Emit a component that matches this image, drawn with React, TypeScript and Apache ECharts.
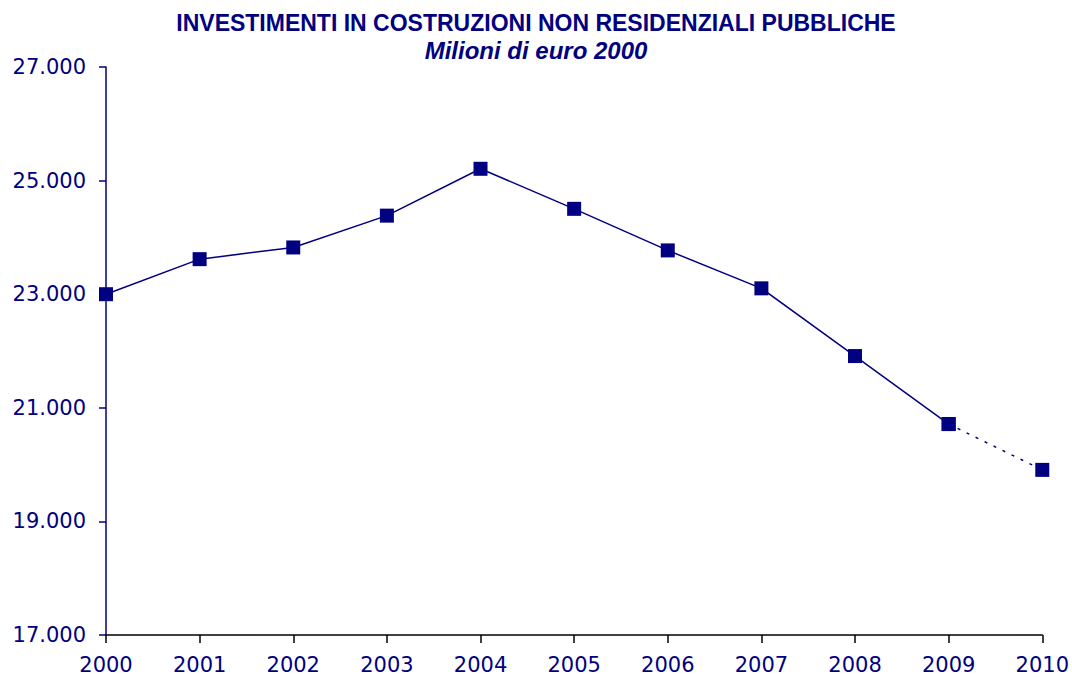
import React, { useEffect, useRef } from "react";
import * as echarts from "echarts";

const years = ["2000", "2001", "2002", "2003", "2004", "2005", "2006", "2007", "2008", "2009", "2010"];
const investments = [23000, 23617, 23823, 24383, 25208, 24503, 23771, 23103, 21911, 20714, 19907];
const yTicks = [17000, 19000, 21000, 23000, 25000, 27000];
const titleText = "INVESTIMENTI IN COSTRUZIONI NON RESIDENZIALI PUBBLICHE";
const subtitleText = "Milioni di euro 2000";

const NAVY = "#000080";

export default function App() {
  const ref = useRef<HTMLDivElement>(null);
  useEffect(() => {
    if (!ref.current) return;
    const chart = echarts.init(ref.current, null, { renderer: "svg" });
    const lastIdx = investments.length - 1;
    const solid = investments.map((v, i) => (i < lastIdx ? v : null));
    const dotted = investments.map((v, i) => (i >= lastIdx - 1 ? v : null));
    const fmt = (v: number) => {
      const s = String(Math.round(v));
      return s.replace(/\B(?=(\d{3})+(?!\d))/g, ".");
    };
    chart.setOption({
      animation: false,
      backgroundColor: "#ffffff",
      title: [
        {
          text: titleText,
          left: "center",
          top: 6,
          textStyle: { color: NAVY, fontFamily: "Liberation Sans, Arial", fontWeight: "bold", fontSize: 23 },
        },
        {
          text: subtitleText,
          left: "center",
          top: 33,
          textStyle: { color: NAVY, fontFamily: "Liberation Sans, Arial", fontWeight: "bold", fontStyle: "italic", fontSize: 24 },
        },
      ],
      grid: { left: 106, right: 29, top: 67, bottom: 42, containLabel: false },
      xAxis: {
        type: "category",
        data: years,
        boundaryGap: false,
        axisLine: { lineStyle: { color: "#000000", width: 1.5 } },
        axisTick: { show: true, length: 8, lineStyle: { color: "#000000", width: 1.5 }, alignWithLabel: true },
        axisLabel: { color: NAVY, fontFamily: "DejaVu Sans, Verdana", fontSize: 21, margin: 19 },
        splitLine: { show: false },
      },
      yAxis: {
        type: "value",
        min: yTicks[0],
        max: yTicks[yTicks.length - 1],
        interval: 2000,
        axisLine: { show: true, lineStyle: { color: NAVY, width: 1.5 } },
        axisTick: { show: true, length: 7, lineStyle: { color: NAVY, width: 1.5 } },
        axisLabel: { color: NAVY, fontFamily: "DejaVu Sans, Verdana", fontSize: 21, margin: 20, formatter: fmt },
        splitLine: { show: false },
      },
      series: [
        {
          type: "line",
          data: solid,
          symbol: "rect",
          symbolSize: 14,
          itemStyle: { color: NAVY },
          lineStyle: { color: NAVY, width: 1.5 },
          z: 3,
        },
        {
          type: "line",
          data: dotted,
          symbol: "rect",
          symbolSize: 14,
          itemStyle: { color: NAVY },
          lineStyle: { color: NAVY, width: 1.5, type: [3, 7] },
          z: 2,
        },
      ],
    });
    return () => chart.dispose();
  }, []);
  return (
    <div
      ref={ref}
      style={{ position: "fixed", left: 0, top: 0, width: 1072, height: 677, overflow: "hidden", background: "#fff" }}
    />
  );
}
